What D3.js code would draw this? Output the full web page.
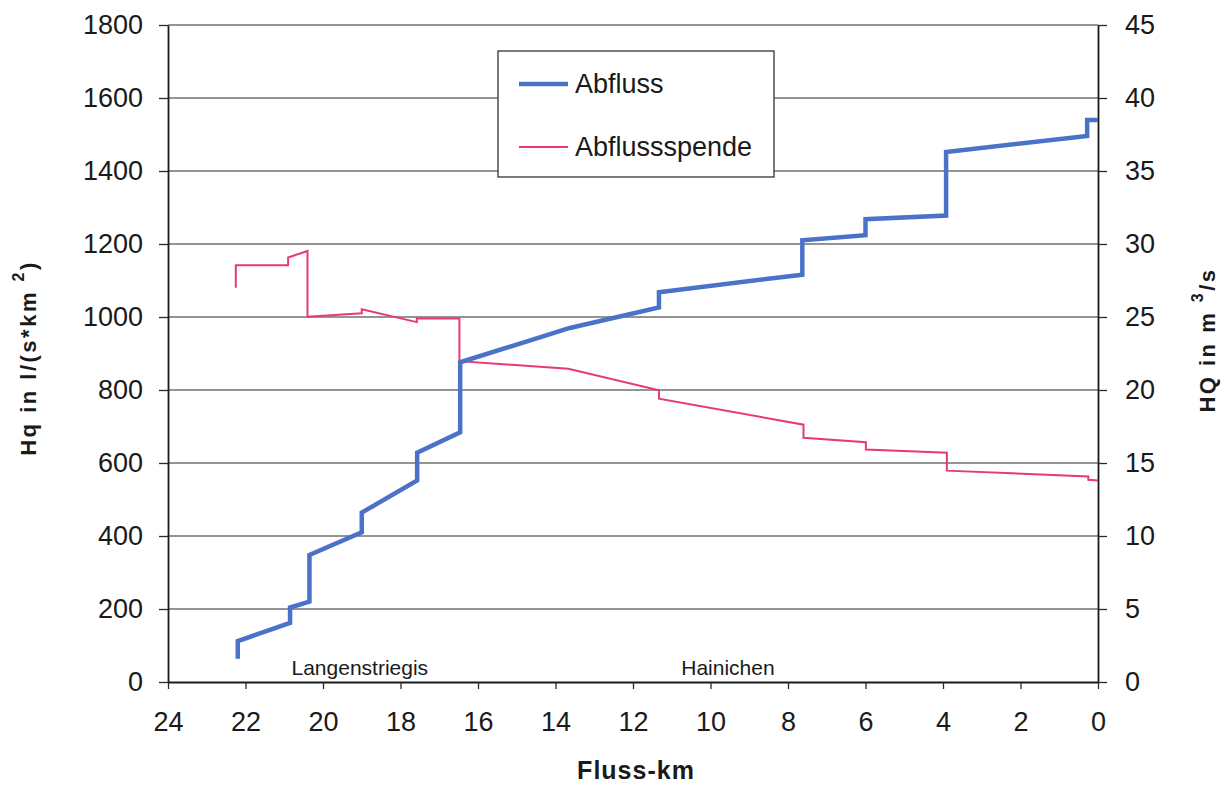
<!DOCTYPE html>
<html>
<head>
<meta charset="utf-8">
<script src="https://cdn.jsdelivr.net/npm/d3@7"></script>
<style>
    body { margin: 0; background: white; }
    .text { font-family: "Liberation Sans", Arial, sans-serif; fill: #1a1a1a; }
</style>
</head>
<body>
<div id="chart"></div>
<script>
// data: [Fluss-km, value]
var abfluss = [
    [22.2, 1.6], [22.2, 2.8], [20.85, 4.05], [20.85, 5.1], [20.35, 5.5], [20.35, 8.7],
    [19.0, 10.25], [19.0, 11.6], [17.57, 13.8], [17.57, 15.7], [16.46, 17.1], [16.46, 21.9],
    [13.63, 24.25], [11.33, 25.65], [11.33, 26.7], [7.63, 27.9], [7.63, 30.25], [6.0, 30.6],
    [6.0, 31.7], [3.92, 31.95], [3.92, 36.3], [0.28, 37.4], [0.28, 38.5], [0, 38.5]
];
var abflussspende = [
    [22.25, 1080], [22.25, 1142], [20.9, 1142], [20.9, 1163], [20.4, 1181], [20.4, 1001],
    [19.0, 1010], [19.0, 1021], [17.58, 986], [17.58, 996], [16.48, 996], [16.48, 879],
    [13.67, 858], [11.33, 799], [11.33, 776], [7.6, 705], [7.6, 669], [5.99, 657],
    [5.99, 637], [3.9, 628], [3.9, 579], [0.25, 563], [0.25, 554], [0, 552]
];
var kmTicks = [24, 22, 20, 18, 16, 14, 12, 10, 8, 6, 4, 2, 0];
var leftTicks = [0, 200, 400, 600, 800, 1000, 1200, 1400, 1600, 1800];
var rightTicks = [0, 5, 10, 15, 20, 25, 30, 35, 40, 45];
var places = [["Langenstriegis", 19.05], ["Hainichen", 9.55]];
var seriesNames = ["Abfluss", "Abflussspende"];

const WIDTH = 1227, HEIGHT = 785;
const LEFT = 168, RIGHT = 1098, TOP = 25, BOTTOM = 682;
const BLUE = "#4a72c9", PINK = "#e8387d";

var svg = d3.select("#chart").append("svg")
            .attr("width", WIDTH)
            .attr("height", HEIGHT);

var x = d3.scaleLinear().domain([24, 0]).range([LEFT, RIGHT]);
var yLeft = d3.scaleLinear().domain([0, 1800]).range([BOTTOM, TOP]);
var yRight = d3.scaleLinear().domain([0, 45]).range([BOTTOM, TOP]);
var plain = d3.format("d");

//gridlines
svg.append("g")
    .selectAll("line")
    .data(leftTicks.slice(1))
    .join("line")
    .attr("x1", LEFT).attr("x2", RIGHT)
    .attr("y1", d => yLeft(d)).attr("y2", d => yLeft(d))
    .attr("stroke", "#2a2a2a")
    .attr("stroke-width", 1.2);

//axes
function styleAxis(g, size) {
    g.selectAll("text").attr("class", "text")
        .style("font-family", '"Liberation Sans", Arial, sans-serif')
        .style("font-size", size + "px")
        .attr("fill", "#1a1a1a");
    g.selectAll("line").attr("stroke", "#2a2a2a").attr("stroke-width", 1.3);
    g.select(".domain").attr("stroke", "#1a1a1a").attr("stroke-width", 1.8);
}

svg.append("g")
    .attr("transform", "translate(0," + BOTTOM + ")")
    .call(d3.axisBottom(x).tickValues(kmTicks).tickFormat(plain).tickSize(7).tickSizeOuter(0).tickPadding(23))
    .call(g => styleAxis(g, 27));

svg.append("g")
    .attr("transform", "translate(" + LEFT + ",0)")
    .call(d3.axisLeft(yLeft).tickValues(leftTicks).tickFormat(plain).tickSize(9).tickSizeOuter(0).tickPadding(16))
    .call(g => styleAxis(g, 27));

svg.append("g")
    .attr("transform", "translate(" + RIGHT + ",0)")
    .call(d3.axisRight(yRight).tickValues(rightTicks).tickFormat(plain).tickSize(9).tickSizeOuter(0).tickPadding(18))
    .call(g => styleAxis(g, 27));

//place labels
svg.append("g")
    .selectAll("text")
    .data(places)
    .join("text")
    .attr("class", "text")
    .attr("x", d => x(d[1]))
    .attr("y", BOTTOM - 7)
    .style("font-size", "21px")
    .style("text-anchor", "middle")
    .text(d => d[0]);

//lines
var lineRight = d3.line().x(d => x(d[0])).y(d => yRight(d[1]));
var lineLeft = d3.line().x(d => x(d[0])).y(d => yLeft(d[1]));

svg.append("path")
    .attr("d", lineLeft(abflussspende))
    .attr("fill", "none")
    .attr("stroke", PINK)
    .attr("stroke-width", 2);

svg.append("path")
    .attr("d", lineRight(abfluss))
    .attr("fill", "none")
    .attr("stroke", BLUE)
    .attr("stroke-width", 4.5);

//legend
var legend = svg.append("g").attr("transform", "translate(498,51)");
legend.append("rect")
    .attr("width", 276).attr("height", 126)
    .attr("fill", "white")
    .attr("stroke", "#333")
    .attr("stroke-width", 1.3);

legend.selectAll("line")
    .data(seriesNames)
    .join("line")
    .attr("x1", 21).attr("x2", 70)
    .attr("y1", (d, i) => 33 + i * 63).attr("y2", (d, i) => 33 + i * 63)
    .attr("stroke", (d, i) => i === 0 ? BLUE : PINK)
    .attr("stroke-width", (d, i) => i === 0 ? 4.5 : 2);

legend.selectAll("text")
    .data(seriesNames)
    .join("text")
    .attr("class", "text")
    .attr("x", 77)
    .attr("y", (d, i) => 42 + i * 63)
    .style("font-size", "27px")
    .text(d => d);

//axis titles
svg.append("text")
    .attr("class", "text")
    .attr("x", (LEFT + RIGHT) / 2 + 3)
    .attr("y", 779)
    .style("text-anchor", "middle")
    .style("font-size", "25px")
    .style("font-weight", "bold")
    .style("letter-spacing", "1px")
    .text("Fluss-km");

var leftTitle = svg.append("text")
    .attr("class", "text")
    .attr("transform", "translate(36,358) rotate(-90)")
    .style("text-anchor", "middle")
    .style("font-size", "22px")
    .style("font-weight", "bold")
    .style("letter-spacing", "2.5px");
leftTitle.append("tspan").text("Hq in l/(s*km ");
leftTitle.append("tspan").attr("dy", -12).style("font-size", "16px").text("2");
leftTitle.append("tspan").attr("dy", 12).text(")");

var rightTitle = svg.append("text")
    .attr("class", "text")
    .attr("transform", "translate(1215,340) rotate(-90)")
    .style("text-anchor", "middle")
    .style("font-size", "22px")
    .style("font-weight", "bold")
    .style("letter-spacing", "2.5px");
rightTitle.append("tspan").text("HQ in m ");
rightTitle.append("tspan").attr("dy", -12).style("font-size", "16px").text("3");
rightTitle.append("tspan").attr("dy", 12).text("/s");
</script>
</body>
</html>
